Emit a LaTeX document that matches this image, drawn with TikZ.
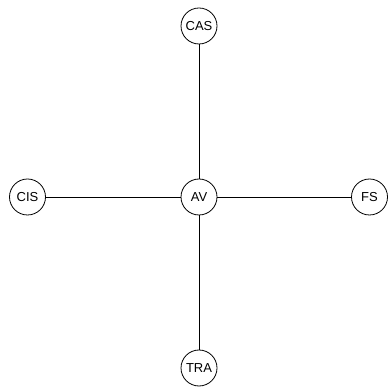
\documentclass[tikz,border=0pt]{standalone}
\usepackage{fontspec}
\setmainfont{Liberation Sans}
\begin{document}
\begin{tikzpicture}[x=1pt,y=1pt,
  vertex/.style={circle,draw,line width=0.8pt,minimum size=36pt,inner sep=0pt,font=\fontsize{13}{15}\selectfont},
  edge/.style={line width=0.8pt}]
\useasboundingbox (0,0) rectangle (388,388);
\node[vertex] (av) at (199,191) {AV};
\node[vertex] (cas) at (199,362) {CAS};
\node[vertex] (cis) at (27.5,191) {CIS};
\node[vertex] (fs) at (369.5,191) {FS};
\node[vertex] (tra) at (199,20) {TRA};
\draw[edge] (av) -- (cas);
\draw[edge] (av) -- (cis);
\draw[edge] (av) -- (fs);
\draw[edge] (av) -- (tra);
\end{tikzpicture}
\end{document}
